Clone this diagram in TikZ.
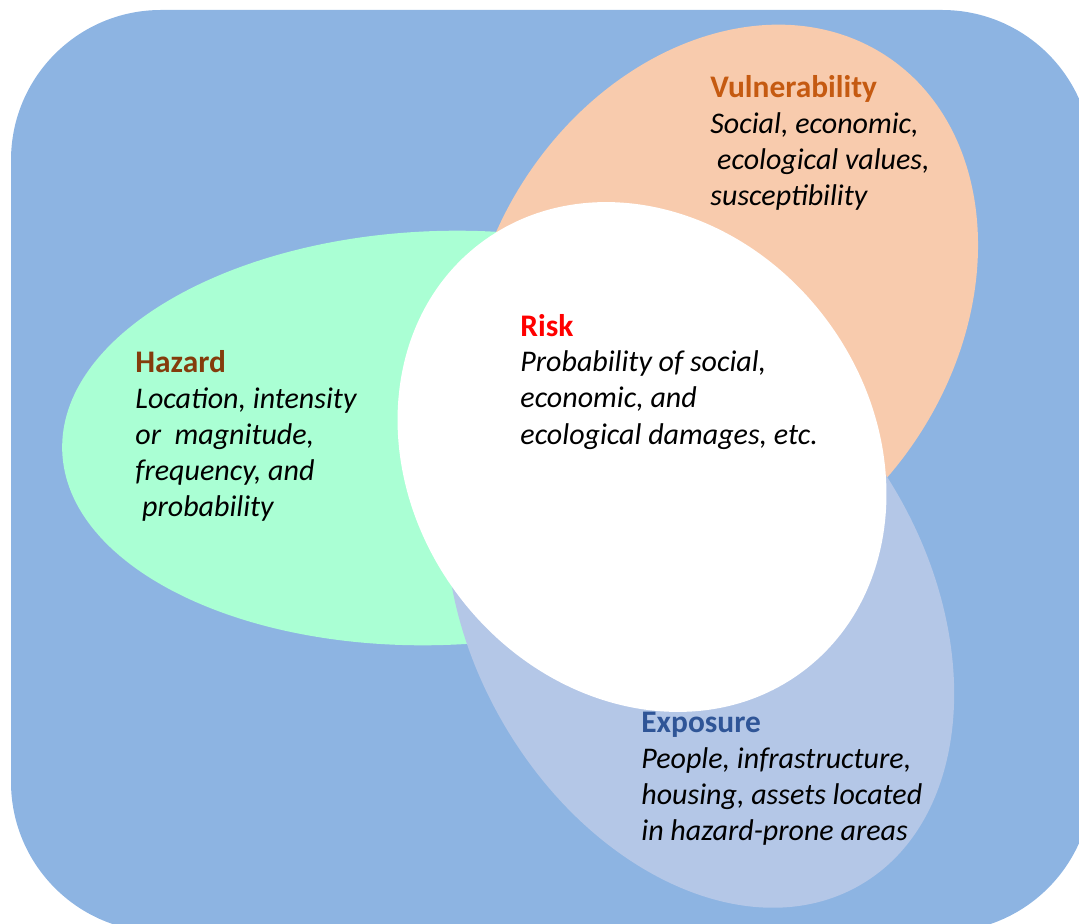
\documentclass[tikz,border=0pt]{standalone}
\usepackage{fontspec}
\setmainfont{Carlito}

\definecolor{bgblue}{HTML}{8DB4E2}
\definecolor{hazgreen}{HTML}{AAFFD4}
\definecolor{vulorange}{HTML}{F8CBAD}
\definecolor{explav}{HTML}{B4C7E7}
\definecolor{hazbrown}{HTML}{843C0C}
\definecolor{vulbrown}{HTML}{C55A11}
\definecolor{expblue}{HTML}{2F5597}

\newcommand{\lbltitle}[2]{{\fontsize{15.7}{18}\selectfont\upshape\bfseries\color{#1}#2}}

\begin{document}
\begin{tikzpicture}[x=0.5pt,y=-0.5pt,
  lbl/.style={anchor=base west, align=left, inner sep=0pt,
    font=\fontsize{15}{18}\selectfont\itshape}]
\useasboundingbox (0,0) rectangle (1079,924);
\fill[bgblue, rounded corners=75pt] (11,10) rectangle (1092,932);

%orange, green and lavender first, the white one on top
\fill[vulorange, rotate around={57:(722,307)}] (722,307) ellipse (300 and 235);
\fill[hazgreen, rotate around={2:(440,438)}] (440,438) ellipse (378 and 207);
\fill[explav, rotate around={-60:(700,608)}] (700,608) ellipse (320 and 228);
\fill[white, rotate around={127:(642,457)}] (642,457) ellipse (268 and 230);

%nodes sit on the baseline of their last line
\node[lbl] (hazard) at (135,516) {\lbltitle{hazbrown}{Hazard}\\
  Location, intensity\\or~ magnitude,\\frequency, and\\\ probability};
\node[lbl] (vuln) at (710,206) {\lbltitle{vulbrown}{Vulnerability}\\
  Social, economic,\\\ ecological values,\\susceptibility};
\node[lbl] (risk) at (520,444) {\lbltitle{red}{Risk}\\
  Probability of social,\\economic, and\\ecological damages, etc.};
\node[lbl] (expo) at (641,840) {\lbltitle{expblue}{Exposure}\\
  People, infrastructure,\\housing, assets located\\in hazard-prone areas};
\end{tikzpicture}
\end{document}
